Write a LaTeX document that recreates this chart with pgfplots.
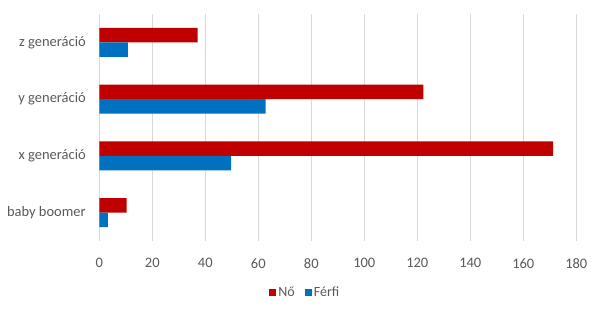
\documentclass[border=0pt]{standalone}
\usepackage{fontspec}
\setmainfont{Carlito}
\usepackage{pgfplots}
\pgfplotsset{compat=1.18}
\definecolor{nored}{HTML}{C00000}
\definecolor{ferblue}{HTML}{0070C0}
\definecolor{txtgray}{HTML}{595959}
\definecolor{gridgray}{HTML}{D9D9D9}
\begin{document}
\begin{tikzpicture}
\path[use as bounding box] (-99.3pt,-69pt) rectangle (500.7pt,241pt);
\begin{axis}[
  at={(0pt,0pt)}, anchor=south west,
  scale only axis,
  width=477pt, height=227pt,
  xmin=0, xmax=180,
  ymin=-0.5, ymax=3.5,
  xtick={0,20,...,180},
  ytick={0,1,2,3},
  yticklabels={baby boomer, x generáció, y generáció, z generáció},
  xbar,
  bar width=14.5pt,
  axis line style={draw=none},
  major tick length=0pt,
  xmajorgrids,
  major grid style={gridgray, line width=1.1pt},
  font=\fontsize{14.5}{16}\selectfont,
  tick label style={text=txtgray},
  /pgf/number format/assume math mode=true,
  xticklabel style={yshift=-14pt},
  yticklabel style={xshift=-10pt},
  legend style={at={(0.432,-0.226)}, anchor=center, draw=none, fill=none,
    legend columns=2, text=txtgray, font=\fontsize{14}{16}\selectfont,
    /tikz/every even column/.append style={column sep=8pt}},
  legend image code/.code={\fill[#1] (0pt,-3.5pt) rectangle (7pt,3.5pt);},
]
\addplot[fill=nored, draw=none, bar shift=7.25pt] coordinates {(10.3,0) (171.3,1) (122.3,2) (37.1,3)};
\addlegendentry{Nő}
\addplot[fill=ferblue, draw=none, bar shift=-7.25pt] coordinates {(3.2,0) (49.7,1) (62.8,2) (10.8,3)};
\addlegendentry{Férfi}
\end{axis}
\end{tikzpicture}
\end{document}
